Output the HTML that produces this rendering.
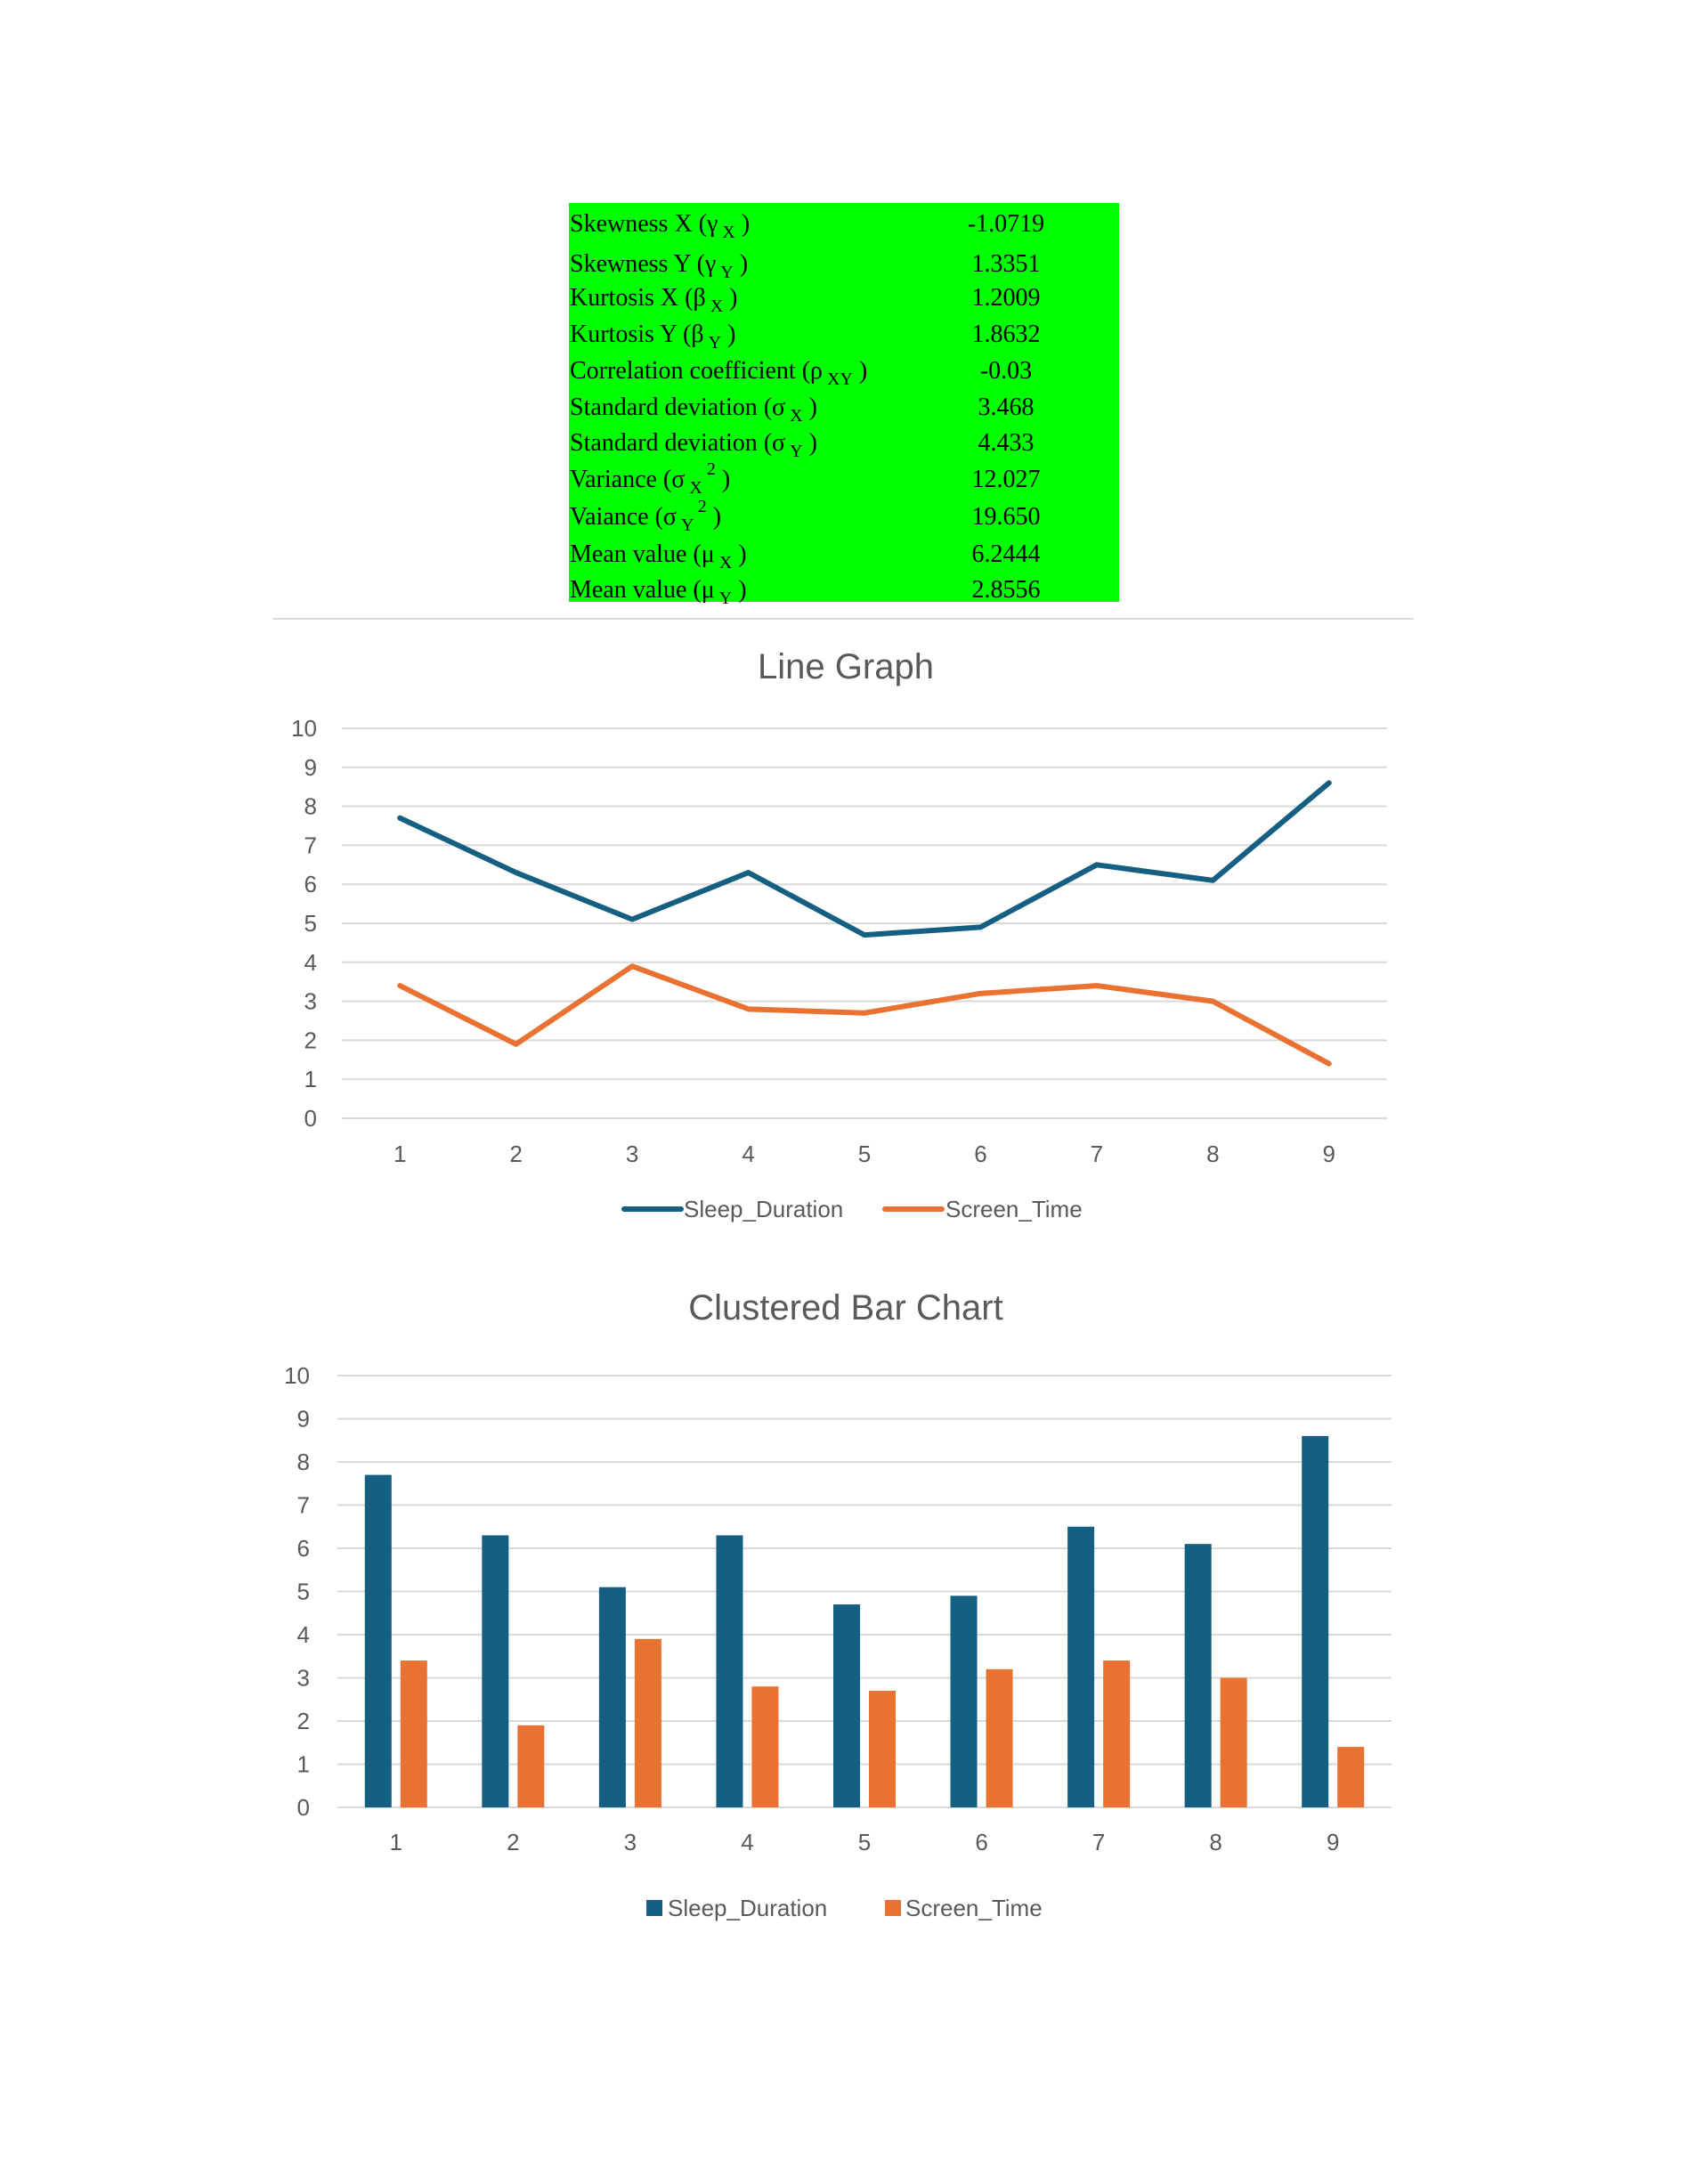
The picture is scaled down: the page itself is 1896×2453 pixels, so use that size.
<!DOCTYPE html>
<html><head><meta charset="utf-8"><style>
html,body{margin:0;padding:0;background:#fff;}
svg{display:block;}
.tbl{font-family:"Liberation Serif",serif;font-size:28px;fill:#000;}
.ax{font-family:"Liberation Sans",sans-serif;font-size:26px;fill:#595959;}
.ttl{font-family:"Liberation Sans",sans-serif;font-size:40px;fill:#595959;}
</style></head><body>
<svg id="page" width="1896" height="2453" viewBox="0 0 1896 2453" xmlns="http://www.w3.org/2000/svg">
<g id="table">
<rect x="639" y="228" width="618" height="448" fill="#00ff00"/>
</g>
<line x1="306" y1="695" x2="1588" y2="695" stroke="#d9d9d9" stroke-width="2"/>
<g id="line-chart"></g>
<g id="bar-chart"></g>
</svg>
<script>
const NS="http://www.w3.org/2000/svg";
const statLabels=["Skewness X (γ<sub>X</sub>)","Skewness Y (γ<sub>Y</sub>)","Kurtosis X (β<sub>X</sub>)","Kurtosis Y (β<sub>Y</sub>)","Correlation coefficient (ρ<sub>XY</sub>)","Standard deviation (σ<sub>X</sub>)","Standard deviation (σ<sub>Y</sub>)","Variance (σ<sub>X</sub><sup>2</sup>)","Vaiance (σ<sub>Y</sub><sup>2</sup>)","Mean value (μ<sub>X</sub>)","Mean value (μ<sub>Y</sub>)"];
const statValues=["-1.0719","1.3351","1.2009","1.8632","-0.03","3.468","4.433","12.027","19.650","6.2444","2.8556"];
const categories=["1","2","3","4","5","6","7","8","9"];
const sleepDuration=[7.7,6.3,5.1,6.3,4.7,4.9,6.5,6.1,8.6];
const screenTime=[3.4,1.9,3.9,2.8,2.7,3.2,3.4,3.0,1.4];
const yTicks=[0,1,2,3,4,5,6,7,8,9,10];
const BLUE="#156082",ORANGE="#e97132";
function mk(tag,attrs,parent){const e=document.createElementNS(NS,tag);for(const k in attrs)e.setAttribute(k,attrs[k]);parent.appendChild(e);return e;}

// table
const tbl=document.getElementById('table');
const rowY=[260,305,343,384,425,466,506,547,589,631,671];
statLabels.forEach((lab,i)=>{
  const t=mk('text',{x:640,y:rowY[i],class:'tbl'},tbl);
  
  
  const parts=lab.split(/(<sub>.*?<\/sub>|<sup>.*?<\/sup>)/);
  let off=0;
  parts.forEach(p=>{
    if(!p)return;
    let m;
    if((m=p.match(/<sub>(.*)<\/sub>/))){const s=mk('tspan',{dy:7-off,'font-size':20},t);s.textContent=' '+m[1];off=7;}
    else if((m=p.match(/<sup>(.*)<\/sup>/))){const s=mk('tspan',{dy:-14-off,'font-size':20},t);s.textContent=' '+m[1];off=-14;}
    else{const s=mk('tspan',{dy:-off},t);s.textContent=(off?' ':'')+p;off=0;}
  });
  const v=mk('text',{x:1130,y:rowY[i],class:'tbl','text-anchor':'middle'},tbl);
  
  
  v.textContent=statValues[i];
});

function chart(g,cfg){
  const yS=v=>cfg.y0-(v/10)*(cfg.y0-cfg.y10);
  const bw=(cfg.x1-cfg.x0)/categories.length;
  const xS=i=>cfg.x0+bw*(i+0.5);
  const title=mk('text',{x:cfg.tx,y:cfg.ty,class:'ttl','text-anchor':'middle'},g);
  
  
  title.textContent=cfg.title;
  yTicks.forEach(t=>{
    const l=mk('line',{x1:cfg.x0,x2:cfg.x1,y1:yS(t),y2:yS(t),stroke:'#d9d9d9','stroke-width':2},g);
    
    
    const tx=mk('text',{x:cfg.lx,y:yS(t)+9,class:'ax','text-anchor':'end'},g);
    
    
    tx.textContent=t;
  });
  categories.forEach((c,i)=>{
    const tx=mk('text',{x:xS(i),y:cfg.xly,class:'ax','text-anchor':'middle'},g);
    
    
    tx.textContent=c;
  });
  return {xS,yS,bw};
}

// line chart
const lg=document.getElementById('line-chart');
const L=chart(lg,{title:'Line Graph',tx:950,ty:762,x0:384,x1:1558,y0:1256,y10:818,lx:356,xly:1305});
[[sleepDuration,BLUE,'sleep-duration-line'],[screenTime,ORANGE,'screen-time-line']].forEach(([d,c,n])=>{
  const p=mk('polyline',{points:d.map((v,i)=>L.xS(i)+','+L.yS(v)).join(' '),fill:'none',stroke:c,'stroke-width':6,'stroke-linejoin':'round','stroke-linecap':'round'},lg);
  
  
});
[[701,765,768,BLUE,'Sleep_Duration'],[994,1058,1062,ORANGE,'Screen_Time']].forEach(([a,b,tx,c,s])=>{
  const l=mk('line',{x1:a,x2:b,y1:1358,y2:1358,stroke:c,'stroke-width':6,'stroke-linecap':'round'},lg);
  
  
  const t=mk('text',{x:tx,y:1367,class:'ax'},lg);
  
  
  t.textContent=s;
});

// bar chart
const bg=document.getElementById('bar-chart');
const B=chart(bg,{title:'Clustered Bar Chart',tx:950,ty:1482,x0:379,x1:1563,y0:2030,y10:1545,lx:348,xly:2078});
categories.forEach((c,i)=>{
  const cx=B.xS(i);
  const r1=mk('rect',{x:cx-35,y:B.yS(sleepDuration[i]),width:30,height:B.yS(0)-B.yS(sleepDuration[i]),fill:BLUE},bg);
  
  
  const r2=mk('rect',{x:cx+5,y:B.yS(screenTime[i]),width:30,height:B.yS(0)-B.yS(screenTime[i]),fill:ORANGE},bg);
  
  
});
[[726,750,BLUE,'Sleep_Duration'],[994,1017,ORANGE,'Screen_Time']].forEach(([a,tx,c,s])=>{
  const r=mk('rect',{x:a,y:2134,width:18,height:18,fill:c},bg);
  
  
  const t=mk('text',{x:tx,y:2152,class:'ax','font-size':29},bg);
  
  
  t.textContent=s;
});
</script>
</body></html>
